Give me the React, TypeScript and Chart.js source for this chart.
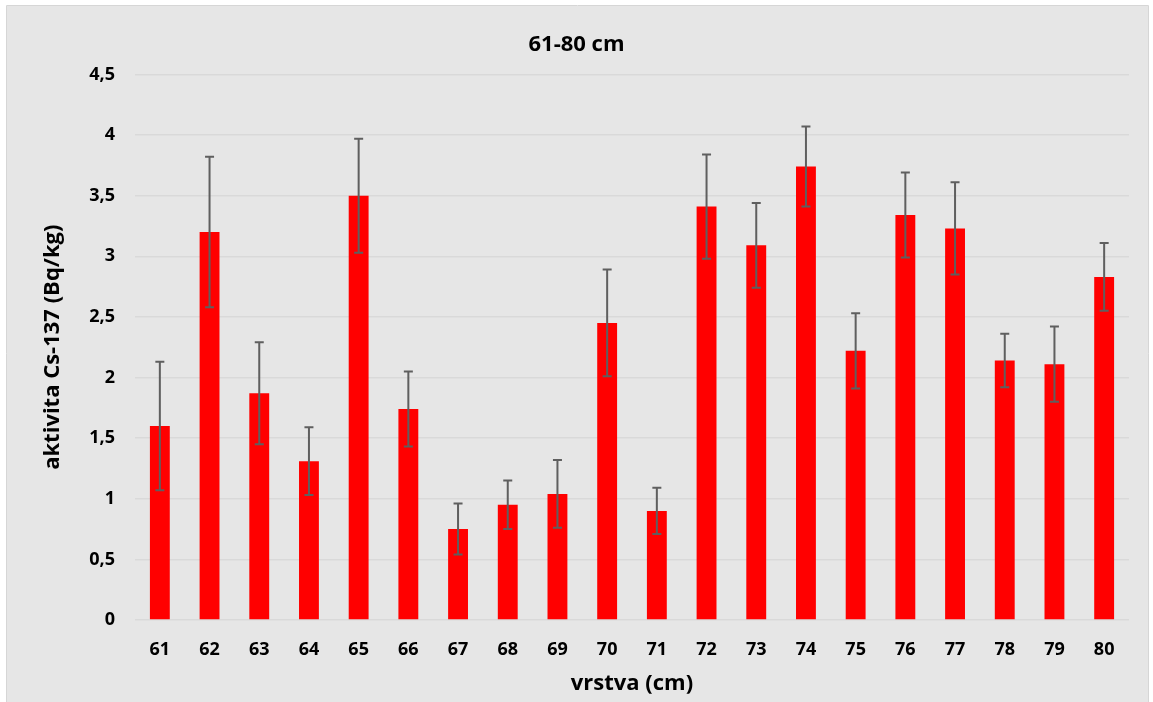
import React, { useEffect, useRef } from "react";
import { Chart, registerables } from "chart.js";

Chart.register(...registerables);

const categories = ["61", "62", "63", "64", "65", "66", "67", "68", "69", "70", "71", "72", "73", "74", "75", "76", "77", "78", "79", "80"];
const values = [1.6, 3.2, 1.87, 1.31, 3.5, 1.74, 0.75, 0.95, 1.04, 2.45, 0.9, 3.41, 3.09, 3.74, 2.22, 3.34, 3.23, 2.14, 2.11, 2.83];
const errors = [0.53, 0.62, 0.42, 0.28, 0.47, 0.31, 0.21, 0.2, 0.28, 0.44, 0.19, 0.43, 0.35, 0.33, 0.31, 0.35, 0.38, 0.22, 0.31, 0.28];
const yTicks = [0, 0.5, 1, 1.5, 2, 2.5, 3, 3.5, 4, 4.5];

const FONT = "'Open Sans', 'Noto Sans', sans-serif";

const backgroundPlugin = {
  id: "bgPlugin",
  beforeDraw(chart: any) {
    const ctx = chart.ctx;
    ctx.save();
    ctx.fillStyle = "#ffffff";
    ctx.fillRect(0, 0, chart.width, chart.height);
    ctx.fillStyle = "#e6e6e6";
    ctx.fillRect(7, 6, 1141, chart.height - 6);
    ctx.strokeStyle = "#d6d6d6";
    ctx.lineWidth = 1;
    ctx.beginPath();
    ctx.moveTo(6.5, chart.height);
    ctx.lineTo(6.5, 5.5);
    ctx.lineTo(1148.5, 5.5);
    ctx.lineTo(1148.5, chart.height);
    ctx.stroke();
    ctx.restore();
  },
};

const errorBarPlugin = {
  id: "errorBars",
  afterDatasetsDraw(chart: any) {
    const ctx = chart.ctx;
    const meta = chart.getDatasetMeta(0);
    const yScale = chart.scales.y;
    ctx.save();
    ctx.strokeStyle = "#5f5f5f";
    ctx.lineWidth = 2;
    meta.data.forEach((bar: any, i: number) => {
      const v = values[i];
      const e = errors[i];
      const x = bar.x;
      const yTop = yScale.getPixelForValue(v + e);
      const yBot = yScale.getPixelForValue(v - e);
      ctx.beginPath();
      ctx.moveTo(x, yTop);
      ctx.lineTo(x, yBot);
      ctx.moveTo(x - 4.5, yTop);
      ctx.lineTo(x + 4.5, yTop);
      ctx.moveTo(x - 4.5, yBot);
      ctx.lineTo(x + 4.5, yBot);
      ctx.stroke();
    });
    ctx.restore();
  },
};

export default function App() {
  const ref = useRef<HTMLCanvasElement | null>(null);

  useEffect(() => {
    if (!ref.current) return;
    const chart = new Chart(ref.current, {
      type: "bar",
      data: {
        labels: categories,
        datasets: [
          {
            data: values,
            backgroundColor: "#ff0000",
            borderWidth: 0,
            barPercentage: 0.4,
            categoryPercentage: 1,
          },
        ],
      },
      options: {
        animation: false,
        responsive: false,
        devicePixelRatio: 1,
        layout: { padding: { left: 24, right: 24, top: 0, bottom: 0 } },
        plugins: {
          legend: { display: false },
          tooltip: { enabled: false },
          title: {
            display: true,
            text: "61-80 cm",
            color: "#000000",
            font: { family: FONT, size: 22, weight: "bold", lineHeight: 1.2 },
            padding: { top: 32, bottom: 16 },
          },
        },
        scales: {
          x: {
            grid: { display: false, drawTicks: false },
            border: { display: false },
            ticks: {
              color: "#000000",
              font: { family: FONT, size: 18, weight: "bold" },
              padding: 19,
              maxRotation: 0,
              autoSkip: false,
            },
            title: {
              display: true,
              text: "vrstva (cm)",
              color: "#000000",
              font: { family: FONT, size: 22, weight: "bold", lineHeight: 1.2 },
              padding: { top: 0, bottom: 5 },
            },
            afterFit(scale: any) {
              scale.height = 82;
            },
          },
          y: {
            min: 0,
            max: 4.5,
            afterBuildTicks(scale: any) {
              scale.ticks = yTicks.map((v) => ({ value: v }));
            },
            grid: { color: "#d9d9d9", lineWidth: 1.5, drawTicks: false },
            border: { display: false },
            ticks: {
              color: "#000000",
              font: { family: FONT, size: 18, weight: "bold" },
              padding: 20,
              callback: (v: any) => String(v).replace(".", ","),
            },
            title: {
              display: true,
              text: "aktivita Cs-137 (Bq/kg)",
              color: "#000000",
              font: { family: FONT, size: 22, weight: "bold", lineHeight: 1.2 },
              padding: { top: 16, bottom: 0 },
            },
            afterFit(scale: any) {
              scale.width = 111;
            },
          },
        },
      },
      plugins: [backgroundPlugin, errorBarPlugin],
    } as any);
    return () => chart.destroy();
  }, []);

  return (
    <div style={{ position: "fixed", left: 0, top: 0, width: 1153, height: 702 }}>
      <canvas ref={ref} width={1153} height={702} style={{ width: 1153, height: 702, display: "block" }} />
    </div>
  );
}
